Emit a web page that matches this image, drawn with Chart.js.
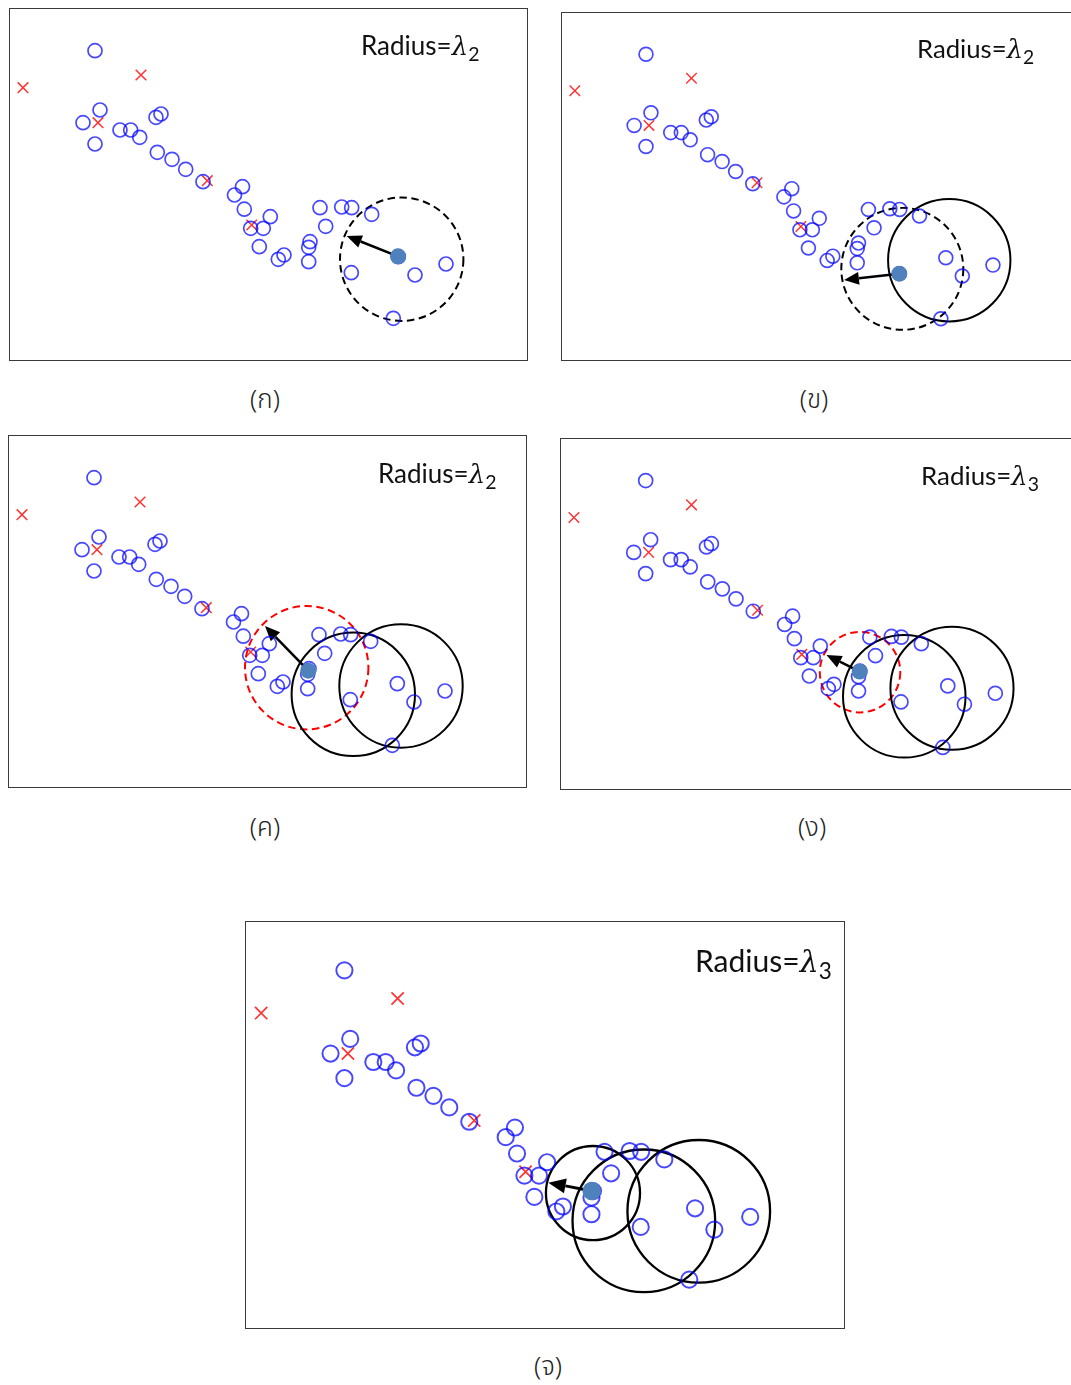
<!DOCTYPE html>
<html>
<head>
<meta charset="utf-8">
<script src="https://cdn.jsdelivr.net/npm/chart.js@4/dist/chart.umd.min.js"></script>
<style>
  html, body { margin: 0; padding: 0; background: #fff; width: 1071px; height: 1385px; overflow: hidden; }
  canvas { position: absolute; }
  .radius { position: absolute; font-family: Lato, "Open Sans", sans-serif; color: #111; white-space: nowrap; line-height: 1; }
  .radius i { font-family: "DejaVu Serif", serif; font-style: italic; }
  .radius sub { font-size: 0.75em; vertical-align: -0.3em; line-height: 0; }
  .cap { position: absolute; font-family: "Noto Sans Thai", "Noto Sans", sans-serif; font-size: 26px; font-weight: 300; color: #222; transform: translateX(-50%); line-height: 1; white-space: nowrap; }
</style>
</head>
<body>
<script>
// Sample points (shared by every panel)
const sampleX = [86, 91, 74, 86, 111, 121.7, 130.7, 147, 152, 148.3, 163, 176.7, 194, 233.5, 225.5, 235.3,
  261.3, 241.7, 254.3, 250.3, 269.3, 275, 301, 299.7, 299.7, 311, 332.7, 342.7, 316.7, 362.7, 342.3, 406, 437, 384.3, 389.3];
const sampleY = [310.3, 251, 238.3, 217, 231, 231, 223.7, 243.7, 247, 208.7, 201.7, 191.7, 179.3, 174.3, 166, 151.8,
  144.3, 132.7, 132.7, 114.3, 101.7, 106, 119.3, 113.7, 99.3, 153.3, 154, 153.3, 134.7, 146.7, 88.3, 86, 97, 42.7, 104.4];

// Outlier points
const outlierX = [14, 132, 89, 198.3, 242.7];
const outlierY = [273.3, 286, 238.3, 180.3, 136];

// Panel captions and the radius used in each step
const panelNames = ["(ก)", "(ข)", "(ค)", "(ง)", "(จ)"];
const radiusIndex = ["2", "2", "2", "3", "3"];

// Current centre (filled point) and shift arrow tip, one per panel
const seedX = [389.0, 342.3, 300.3, 300.9, 299.9];
const seedY = [104.7, 88.3, 117.3, 118.7, 119.4];
const tipX = [337.7, 286.4, 257.0, 267.5, 262.4];
const tipY = [125.0, 81.9, 162.0, 135.4, 126.6];

// Window circles: panel, centre, radius, line style
const ringPanel = [0, 1, 1, 2, 2, 2, 3, 3, 3, 4, 4, 4];
const ringX = [392.7, 392.8, 345.3, 298.7, 345.3, 393.0, 301.2, 345.6, 393.5, 301.0, 345.0, 392.5];
const ringY = [101.8, 101.9, 93.2, 120.3, 93.7, 102.0, 118.2, 94.0, 102.0, 117.6, 93.6, 101.8];
const ringR = [61.7, 61.9, 61.7, 61.7, 61.7, 61.7, 40.4, 61.5, 61.8, 40.7, 61.7, 61.7];
const ringStyle = ["dash", "solid", "dash", "reddash", "solid", "solid", "reddash", "solid", "solid", "solid", "solid", "solid"];

const X_MIN = 0, X_MAX = 519, Y_MIN = 0, Y_MAX = 353;

// Page layout: plot box of each panel and where its texts go
const boxes = [
  { left: 9,   top: 8,   scale: 1.0 },
  { left: 561, top: 12,  scale: 0.989 },
  { left: 8,   top: 435, scale: 1.0 },
  { left: 560, top: 438, scale: 0.997 },
  { left: 245, top: 921, scale: 1.156 }
];
const labelPos = [
  { x: 361, y: 32 }, { x: 917, y: 36 }, { x: 378, y: 460 }, { x: 921, y: 463 }, { x: 695, y: 945 }
];
const capPos = [
  { x: 265, y: 387 }, { x: 814, y: 387 }, { x: 265, y: 815 }, { x: 812, y: 815 }, { x: 548, y: 1354 }
];

const overlay = {
  id: "overlay",
  beforeDatasetsDraw(chart) {
    const p = chart.options.plugins.overlay.panel;
    const s = boxes[p].scale;
    const xs = chart.scales.x, ys = chart.scales.y;
    const ctx = chart.ctx;
    ctx.save();
    // window circles
    ringPanel.forEach((rp, i) => {
      if (rp !== p) return;
      const cx = xs.getPixelForValue(ringX[i]);
      const cy = ys.getPixelForValue(ringY[i]);
      const r = Math.abs(xs.getPixelForValue(ringX[i] + ringR[i]) - cx);
      ctx.beginPath();
      ctx.arc(cx, cy, r, 0, Math.PI * 2);
      ctx.lineWidth = 2 * s;
      ctx.strokeStyle = ringStyle[i] === "reddash" ? "#ff0000" : "#000";
      ctx.setLineDash(ringStyle[i] === "solid" ? [] : [7.5 * s, 4.5 * s]);
      ctx.stroke();
    });
    ctx.setLineDash([]);
    // shift arrow
    const x0 = xs.getPixelForValue(seedX[p]), y0 = ys.getPixelForValue(seedY[p]);
    const x1 = xs.getPixelForValue(tipX[p]), y1 = ys.getPixelForValue(tipY[p]);
    const ang = Math.atan2(y1 - y0, x1 - x0);
    const hl = 15 * s, hw = 6.5 * s;
    const bx = x1 - hl * Math.cos(ang), by = y1 - hl * Math.sin(ang);
    ctx.beginPath();
    ctx.moveTo(x0, y0);
    ctx.lineTo(bx, by);
    ctx.lineWidth = 2.5 * s;
    ctx.strokeStyle = "#000";
    ctx.stroke();
    ctx.beginPath();
    ctx.moveTo(x1, y1);
    ctx.lineTo(bx + hw * Math.sin(ang), by - hw * Math.cos(ang));
    ctx.lineTo(bx - hw * Math.sin(ang), by + hw * Math.cos(ang));
    ctx.closePath();
    ctx.fillStyle = "#000";
    ctx.fill();
    ctx.restore();
  },
  afterDraw(chart) {
    const ctx = chart.ctx;
    ctx.save();
    ctx.strokeStyle = "#3a3a3a";
    ctx.lineWidth = 1;
    ctx.strokeRect(0.5, 0.5, chart.width - 1, chart.height - 1);
    ctx.restore();
  }
};

boxes.forEach((b, p) => {
  const s = b.scale;
  const cv = document.createElement("canvas");
  cv.width = Math.round((X_MAX - X_MIN) * s);
  cv.height = Math.round((Y_MAX - Y_MIN) * s);
  cv.style.left = b.left + "px";
  cv.style.top = b.top + "px";
  cv.style.width = cv.width + "px";
  cv.style.height = cv.height + "px";
  document.body.appendChild(cv);

  new Chart(cv, {
    type: "scatter",
    data: {
      datasets: [
        {
          label: "centre",
          order: 0,
          data: [{ x: seedX[p], y: seedY[p] }],
          pointStyle: "circle",
          pointRadius: 8 * s,
          backgroundColor: "#4f81bd",
          borderColor: "#4f81bd",
          borderWidth: 0
        },
        {
          label: "samples",
          order: 1,
          data: sampleX.map((x, i) => ({ x, y: sampleY[i] })),
          pointStyle: "circle",
          pointRadius: 7 * s,
          backgroundColor: "rgba(0,0,0,0)",
          borderColor: "rgba(0,0,255,0.72)",
          borderWidth: 1.7 * s
        },
        {
          label: "outliers",
          order: 2,
          data: outlierX.map((x, i) => ({ x, y: outlierY[i] })),
          pointStyle: "crossRot",
          pointRadius: 7.5 * s,
          borderColor: "rgba(255,0,0,0.8)",
          borderWidth: 1.5 * s
        }
      ]
    },
    options: {
      responsive: false,
      animation: false,
      events: [],
      layout: { padding: 0, autoPadding: false },
      clip: false,
      plugins: {
        legend: { display: false },
        tooltip: { enabled: false },
        overlay: { panel: p }
      },
      scales: {
        x: { type: "linear", display: false, min: X_MIN, max: X_MAX },
        y: { type: "linear", display: false, min: Y_MIN, max: Y_MAX }
      }
    },
    plugins: [overlay]
  });

  const lab = document.createElement("div");
  lab.className = "radius";
  lab.style.left = labelPos[p].x + "px";
  lab.style.top = labelPos[p].y + "px";
  lab.style.fontSize = (26 * s) + "px";
  lab.innerHTML = "Radius=<i>λ</i><sub>" + radiusIndex[p] + "</sub>";
  document.body.appendChild(lab);

  const cap = document.createElement("div");
  cap.className = "cap";
  cap.style.left = capPos[p].x + "px";
  cap.style.top = capPos[p].y + "px";
  cap.textContent = panelNames[p];
  document.body.appendChild(cap);
});
</script>
</body>
</html>
